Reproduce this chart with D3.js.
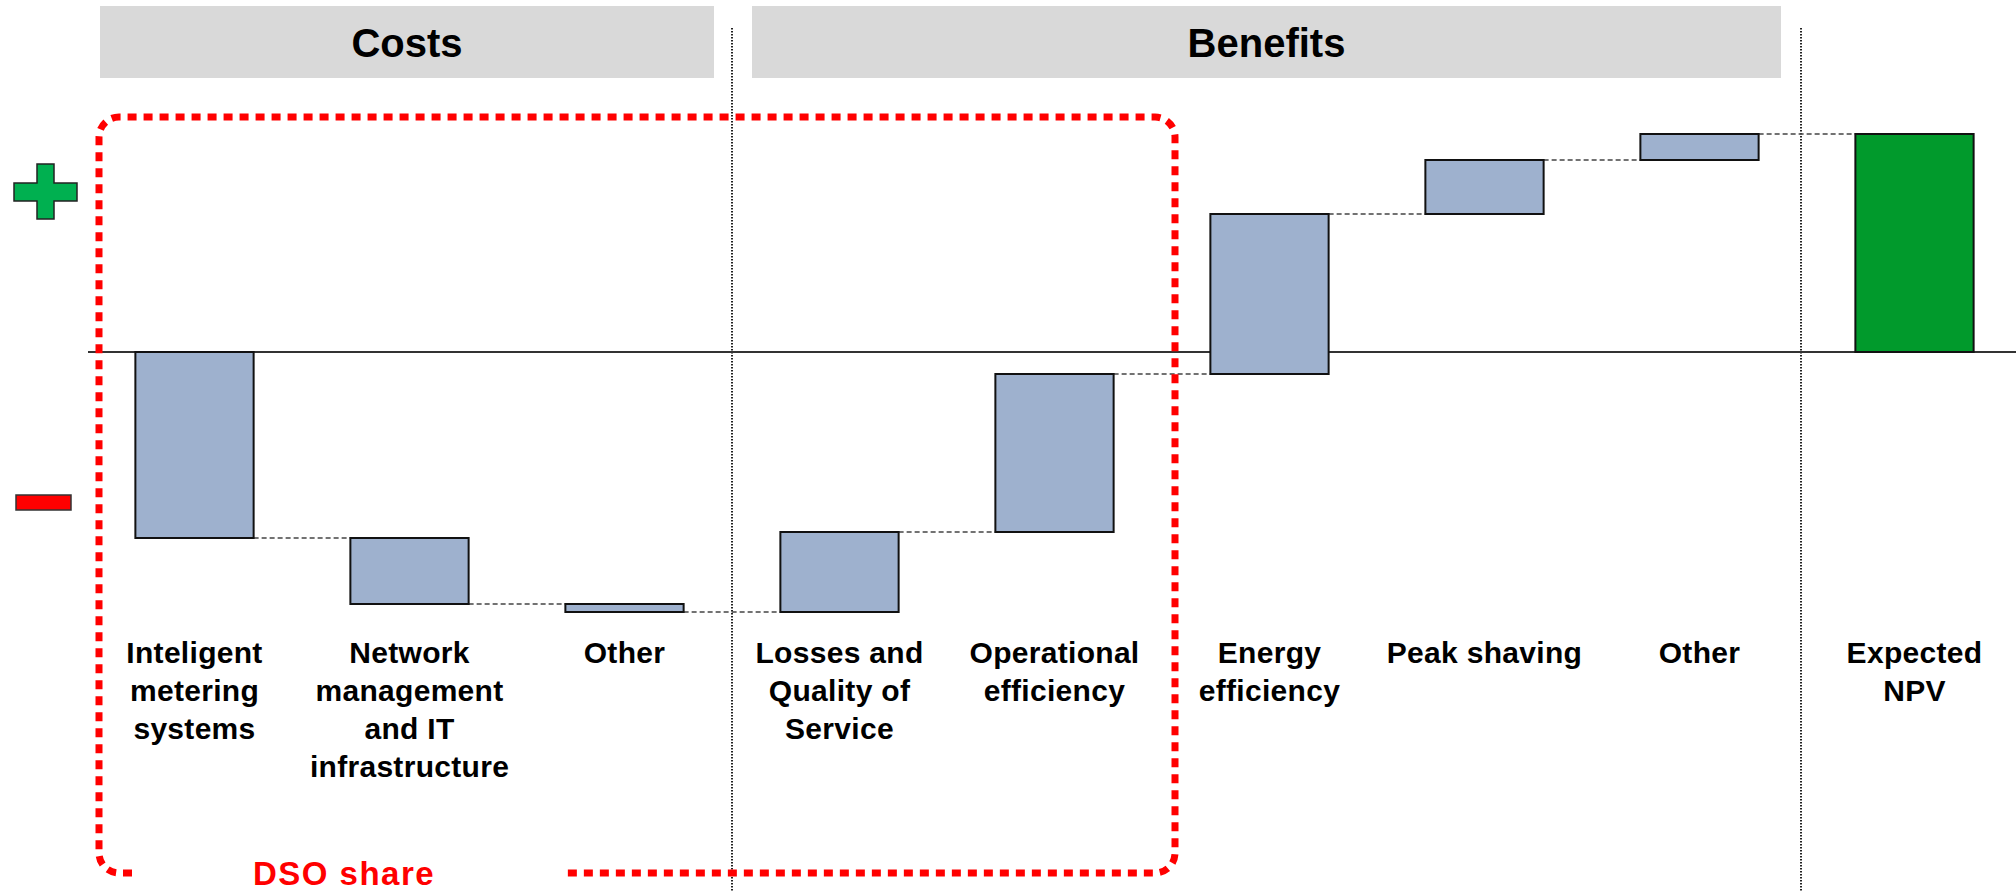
<!DOCTYPE html>
<html>
<head>
<meta charset="utf-8">
<script src="https://cdn.jsdelivr.net/npm/d3@7"></script>
<style>
  body { margin: 0; background: #fff; }
  text { font-family: "Liberation Sans", Arial, sans-serif; font-weight: bold; }
</style>
</head>
<body>
<div id="chart"></div>
<script>
// Chart data
var categories = ["ims", "network", "otherCost", "losses", "operational", "energy", "peak", "otherBenefit", "npv"];
var labelLines = [
  ["Inteligent", "metering", "systems"],
  ["Network", "management", "and IT", "infrastructure"],
  ["Other"],
  ["Losses and", "Quality of", "Service"],
  ["Operational", "efficiency"],
  ["Energy", "efficiency"],
  ["Peak shaving"],
  ["Other"],
  ["Expected", "NPV"]
];
var steps = [-18.6, -6.6, -0.8, 8.0, 15.8, 16.0, 5.4, 2.6];
var groupNames = ["Costs", "Benefits"];
var groupSizes = [3, 5];
var boxLabel = "DSO share";

// SVG area
var svgWidth = 2016;
var svgHeight = 891;

var svg = d3.select("#chart").append("svg")
    .attr("width", svgWidth)
    .attr("height", svgHeight);

// scales
var xScale = d3.scaleBand()
    .domain(categories)
    .range([87, 2022])
    .paddingInner(0.45)
    .paddingOuter(0.225);

var yScale = d3.scaleLinear()
    .domain([-30, 30])
    .range([652, 52]);

// build waterfall rows
var running = 0;
var rows = steps.map(function(v, i) {
  var start = running;
  running += v;
  return { key: categories[i], start: start, end: running, total: false };
});
rows.push({ key: categories[8], start: 0, end: running, total: true });

var bw = xScale.bandwidth();
var step = xScale.step();

// group dividers
var div1 = xScale(categories[2]) + bw + (step - bw) / 2;
var div2 = xScale(categories[7]) + bw + (step - bw) / 2 - 6;

// header boxes
var headers = [
  { name: groupNames[0], x0: 100, x1: div1 - 18 },
  { name: groupNames[1], x0: div1 + 20, x1: div2 - 20 }
];
var headG = svg.append("g");
headG.selectAll("rect")
    .data(headers)
    .enter()
    .append("rect")
    .attr("x", d => d.x0)
    .attr("y", 6)
    .attr("width", d => d.x1 - d.x0)
    .attr("height", 72)
    .attr("fill", "#d9d9d9");
headG.selectAll("text")
    .data(headers)
    .enter()
    .append("text")
    .attr("x", d => (d.x0 + d.x1) / 2)
    .attr("y", 57)
    .attr("text-anchor", "middle")
    .style("font-size", "40px")
    .attr("fill", "#000")
    .text(d => d.name);

// vertical dotted dividers
svg.selectAll(".divider")
    .data([div1, div2])
    .enter()
    .append("line")
    .attr("class", "divider")
    .attr("x1", d => d).attr("x2", d => d)
    .attr("y1", 28).attr("y2", svgHeight)
    .attr("stroke", "#222")
    .attr("stroke-width", 2)
    .attr("stroke-dasharray", "1.5,1.5");

// zero line
svg.append("line")
    .attr("x1", 88).attr("x2", svgWidth)
    .attr("y1", yScale(0)).attr("y2", yScale(0))
    .attr("stroke", "#333")
    .attr("stroke-width", 2);

// connectors
var links = rows.slice(0, rows.length - 1).map(function(r, i) {
  return { x1: xScale(r.key) + bw, x2: xScale(rows[i + 1].key), y: r.end };
});
svg.selectAll(".link")
    .data(links)
    .enter()
    .append("line")
    .attr("class", "link")
    .attr("x1", d => d.x1).attr("x2", d => d.x2)
    .attr("y1", d => yScale(d.y)).attr("y2", d => yScale(d.y))
    .attr("stroke", "#444")
    .attr("stroke-width", 1.5)
    .attr("stroke-dasharray", "5,3");

// bars
svg.selectAll(".bar")
    .data(rows)
    .enter()
    .append("rect")
    .attr("class", "bar")
    .attr("x", d => xScale(d.key))
    .attr("y", d => yScale(Math.max(d.start, d.end)))
    .attr("width", bw)
    .attr("height", d => Math.abs(yScale(d.start) - yScale(d.end)))
    .attr("fill", d => d.total ? "#019a2c" : "#9eb1ce")
    .attr("stroke", "#111")
    .attr("stroke-width", 2);

// category labels
var labelG = svg.selectAll(".label")
    .data(rows)
    .enter()
    .append("text")
    .attr("class", "label")
    .attr("text-anchor", "middle")
    .style("font-size", "30px")
    .style("letter-spacing", "0.3px")
    .attr("fill", "#000");
labelG.selectAll("tspan")
    .data((d, i) => labelLines[i].map(t => ({ t: t, x: xScale(d.key) + bw / 2 })))
    .enter()
    .append("tspan")
    .attr("x", d => d.x)
    .attr("y", (d, i) => 663 + i * 38)
    .text(d => d.t);

// plus / minus signs
svg.append("path")
    .attr("d", "M37,164 H54 V183 H77 V201 H54 V219 H37 V201 H14 V183 H37 Z")
    .attr("fill", "#00b050")
    .attr("stroke", "#222")
    .attr("stroke-width", 1.5);
svg.append("rect")
    .attr("x", 16).attr("y", 495)
    .attr("width", 55).attr("height", 15)
    .attr("fill", "#ff0000")
    .attr("stroke", "#333")
    .attr("stroke-width", 1.5);

// DSO share box (red dotted, with gap for label)
var bx0 = 99, bx1 = 1175, by0 = 117, by1 = 873, r = 20;
svg.append("path")
    .attr("d", "M132," + by1 + " H" + (bx0 + r) +
      " A" + r + "," + r + " 0 0 1 " + bx0 + "," + (by1 - r) +
      " V" + (by0 + r) +
      " A" + r + "," + r + " 0 0 1 " + (bx0 + r) + "," + by0 +
      " H" + (bx1 - r) +
      " A" + r + "," + r + " 0 0 1 " + bx1 + "," + (by0 + r) +
      " V" + (by1 - r) +
      " A" + r + "," + r + " 0 0 1 " + (bx1 - r) + "," + by1 +
      " H561")
    .attr("fill", "none")
    .attr("stroke", "#ff0000")
    .attr("stroke-width", 7)
    .attr("stroke-dasharray", "9,7");

svg.append("text")
    .attr("x", 344)
    .attr("y", 885)
    .attr("text-anchor", "middle")
    .style("font-size", "33px")
    .style("letter-spacing", "1.5px")
    .attr("fill", "#ff0000")
    .text(boxLabel);
</script>
</body>
</html>
